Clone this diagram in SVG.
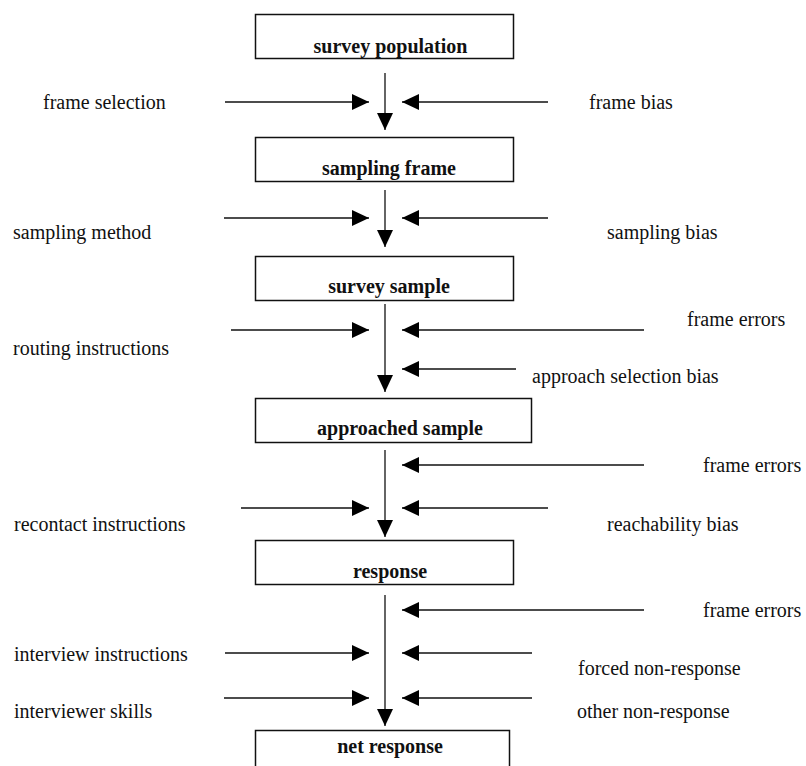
<svg xmlns="http://www.w3.org/2000/svg" width="806" height="766" viewBox="0 0 806 766">
<defs>
<marker id="ah" markerUnits="userSpaceOnUse" viewBox="0 0 17 16" refX="17" refY="8" markerWidth="17" markerHeight="16" orient="auto">
<path d="M0,0 L17,8 L0,16 z" fill="#000"/>
</marker>
<style>
.box{fill:#fff;stroke:#111;stroke-width:1.5}
.t{font-family:"Liberation Serif","Times New Roman",serif;font-size:20px;fill:#111}
.b{font-weight:bold;text-anchor:middle}
.c line{stroke:#111;stroke-width:1.3;marker-end:url(#ah)}
</style>
</defs>
<rect width="806" height="766" fill="#fff"/>
<g id="n1"><rect class="box" x="255.5" y="14.5" width="258" height="44"/><text class="t b" x="390.5" y="53">survey population</text></g>
<g id="n2"><rect class="box" x="255.5" y="137.5" width="258" height="44"/><text class="t b" x="389" y="175">sampling frame</text></g>
<g id="n3"><rect class="box" x="255.5" y="256.5" width="258" height="44"/><text class="t b" x="389" y="293">survey sample</text></g>
<g id="n4"><rect class="box" x="255.5" y="398.5" width="276" height="44"/><text class="t b" x="400" y="435">approached sample</text></g>
<g id="n5"><rect class="box" x="255.5" y="540.5" width="258" height="44"/><text class="t b" x="390" y="578">response</text></g>
<g id="n6"><rect class="box" x="255.5" y="730.5" width="254" height="60"/><text class="t b" x="390" y="753">net response</text></g>
<g id="labels">
<text class="t" x="43" y="109">frame selection</text>
<text class="t" x="589" y="109">frame bias</text>
<text class="t" x="13" y="239">sampling method</text>
<text class="t" x="607" y="239">sampling bias</text>
<text class="t" x="687" y="326">frame errors</text>
<text class="t" x="13" y="355">routing instructions</text>
<text class="t" x="532" y="383">approach selection bias</text>
<text class="t" x="703" y="472">frame errors</text>
<text class="t" x="14" y="531">recontact instructions</text>
<text class="t" x="607" y="531">reachability bias</text>
<text class="t" x="703" y="617">frame errors</text>
<text class="t" x="14" y="661">interview instructions</text>
<text class="t" x="578" y="675">forced non-response</text>
<text class="t" x="14" y="718">interviewer skills</text>
<text class="t" x="577" y="718">other non-response</text>
</g>
<g id="connectors" class="c">
<line x1="385" y1="73" x2="385" y2="130"/>
<line x1="225" y1="102" x2="369" y2="102"/>
<line x1="548" y1="102" x2="402" y2="102"/>
<line x1="385" y1="190" x2="385" y2="247"/>
<line x1="224" y1="218" x2="369" y2="218"/>
<line x1="548" y1="218" x2="402" y2="218"/>
<line x1="385" y1="304" x2="385" y2="392"/>
<line x1="231" y1="330" x2="369" y2="330"/>
<line x1="644" y1="330" x2="402" y2="330"/>
<line x1="516" y1="369" x2="402" y2="369"/>
<line x1="385" y1="450" x2="385" y2="537"/>
<line x1="644" y1="465" x2="402" y2="465"/>
<line x1="241" y1="508" x2="369" y2="508"/>
<line x1="548" y1="508" x2="402" y2="508"/>
<line x1="385" y1="595" x2="385" y2="726"/>
<line x1="644" y1="610" x2="402" y2="610"/>
<line x1="225" y1="653" x2="369" y2="653"/>
<line x1="532" y1="653" x2="402" y2="653"/>
<line x1="224" y1="698" x2="369" y2="698"/>
<line x1="532" y1="698" x2="402" y2="698"/>
</g>
</svg>
